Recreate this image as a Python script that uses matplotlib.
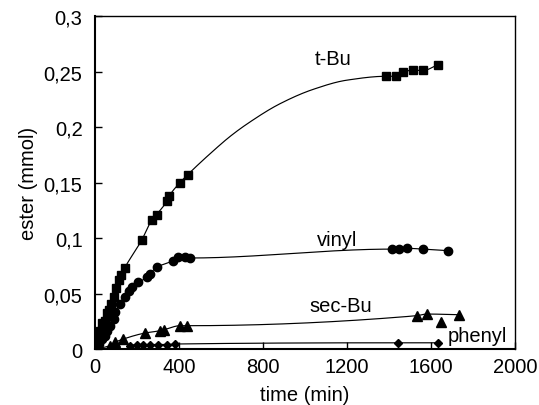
import numpy as np
import matplotlib
matplotlib.use("Agg")
import matplotlib.pyplot as plt
from matplotlib.ticker import FuncFormatter

plt.rcParams["font.family"] = ["Liberation Sans", "DejaVu Sans"]

# --- measured ester amounts (mmol) vs time (min) ---
t_bu_time = [0, 10, 25, 33, 46, 57, 65, 78, 89, 100, 116, 125, 141, 222, 270, 293,
             341, 354, 405, 441, 1386, 1433, 1465, 1516, 1563, 1632]
t_bu_ester = [0.003, 0.011, 0.016, 0.023, 0.025, 0.032, 0.035, 0.041, 0.047, 0.055,
              0.062, 0.067, 0.073, 0.098, 0.116, 0.121, 0.133, 0.138, 0.150, 0.157,
              0.2457, 0.2457, 0.250, 0.251, 0.251, 0.256]
# smoothed trend of the t-Bu series across the gap in sampling
t_bu_trend_time = [563, 643, 722, 881, 1040, 1199]
t_bu_trend_ester = [0.1785, 0.1915, 0.2025, 0.2210, 0.2340, 0.2422]

vinyl_time = [0, 18, 33, 49, 57, 73, 89, 97, 120, 144, 160, 176, 206, 248, 262, 294,
              370, 397, 429, 452, 1413, 1448, 1484, 1564, 1682]
vinyl_ester = [0.001, 0.0045, 0.009, 0.012, 0.0165, 0.021, 0.027, 0.033, 0.041, 0.047,
               0.0525, 0.0556, 0.060, 0.0646, 0.068, 0.0736, 0.0795, 0.083, 0.083,
               0.082, 0.090, 0.090, 0.0907, 0.090, 0.0886]

sec_bu_time = [0, 71, 95, 135, 238, 310, 329, 405, 437, 1532, 1579, 1735]
sec_bu_ester = [0.0, 0.003, 0.006, 0.009, 0.0144, 0.0165, 0.0174, 0.021, 0.021,
                0.030, 0.0315, 0.0309]
sec_bu_outlier_time = [1648]
sec_bu_outlier_ester = [0.0246]

phenyl_time = [167, 198, 227, 262, 301, 341, 381, 1444, 1635]
phenyl_ester = [0.003, 0.004, 0.004, 0.004, 0.004, 0.004, 0.0045, 0.0056, 0.0056]

x_ticks = [0, 400, 800, 1200, 1600, 2000]
y_ticks = [0, 0.05, 0.1, 0.15, 0.2, 0.25, 0.3]


def pchip(x, y, xs):
    """Monotone piecewise cubic Hermite interpolation."""
    x = np.asarray(x, float)
    y = np.asarray(y, float)
    h = np.diff(x)
    d = np.diff(y) / h
    n = len(x)
    m = np.zeros(n)
    for k in range(1, n - 1):
        if d[k - 1] * d[k] > 0:
            w1 = 2 * h[k] + h[k - 1]
            w2 = h[k] + 2 * h[k - 1]
            m[k] = (w1 + w2) / (w1 / d[k - 1] + w2 / d[k])
    m[0] = d[0]
    m[-1] = d[-1]
    idx = np.clip(np.searchsorted(x, xs) - 1, 0, n - 2)
    t = (xs - x[idx]) / h[idx]
    h00 = 2 * t**3 - 3 * t**2 + 1
    h10 = t**3 - 2 * t**2 + t
    h01 = -2 * t**3 + 3 * t**2
    h11 = t**3 - t**2
    return (h00 * y[idx] + h10 * h[idx] * m[idx]
            + h01 * y[idx + 1] + h11 * h[idx] * m[idx + 1])


def smooth_line(ax, xs, ys):
    order = np.argsort(xs)
    xs = np.asarray(xs, float)[order]
    ys = np.asarray(ys, float)[order]
    grid = np.linspace(xs[0], xs[-1], 800)
    ax.plot(grid, pchip(xs, ys, grid), color="black", lw=0.85, zorder=2)


fig = plt.figure(figsize=(5.39, 4.06), dpi=100)
ax = fig.add_axes([0.1763, 0.1379, 0.7792, 0.8202])

smooth_line(ax, t_bu_time + t_bu_trend_time, t_bu_ester + t_bu_trend_ester)
smooth_line(ax, vinyl_time, vinyl_ester)
smooth_line(ax, sec_bu_time, sec_bu_ester)
smooth_line(ax, phenyl_time, phenyl_ester)

mk = dict(color="black", linestyle="none", zorder=3)
ax.plot(t_bu_time, t_bu_ester, marker="s", ms=5.8, **mk)
ax.plot(vinyl_time, vinyl_ester, marker="o", ms=6.0, **mk)
ax.plot(sec_bu_time, sec_bu_ester, marker="^", ms=6.5, **mk)
ax.plot(sec_bu_outlier_time, sec_bu_outlier_ester, marker="^", ms=6.5, **mk)
ax.plot(phenyl_time, phenyl_ester, marker="D", ms=4.2, **mk)

fs = 14.5
ax.text(1048, 0.2568, "t-Bu", fontsize=fs, ha="left", va="baseline")
ax.text(1056, 0.0937, "vinyl", fontsize=fs, ha="left", va="baseline")
ax.text(1021, 0.0345, "sec-Bu", fontsize=fs, ha="left", va="baseline")
ax.text(1678, 0.0069, "phenyl", fontsize=fs, ha="left", va="baseline")

ax.set_xlim(0, 2000)
ax.set_ylim(0, 0.3)
ax.set_xticks(x_ticks)
ax.set_yticks(y_ticks)
ax.yaxis.set_major_formatter(FuncFormatter(lambda v, p: f"{v:g}".replace(".", ",")))
ax.tick_params(direction="in", length=5, width=1, labelsize=fs, color="black")
ax.tick_params(axis="y", pad=9)
ax.tick_params(axis="x", pad=6)
for s in ax.spines.values():
    s.set_linewidth(1.0)
ax.spines["left"].set_linewidth(1.5)
ax.spines["bottom"].set_linewidth(1.5)

ax.set_xlabel("time (min)", fontsize=fs)
ax.set_ylabel("ester (mmol)", fontsize=fs)
ax.xaxis.set_label_coords(0.5, -0.108)
ax.yaxis.set_label_coords(-0.135, 0.5)

fig.savefig("out.png", dpi=100)
